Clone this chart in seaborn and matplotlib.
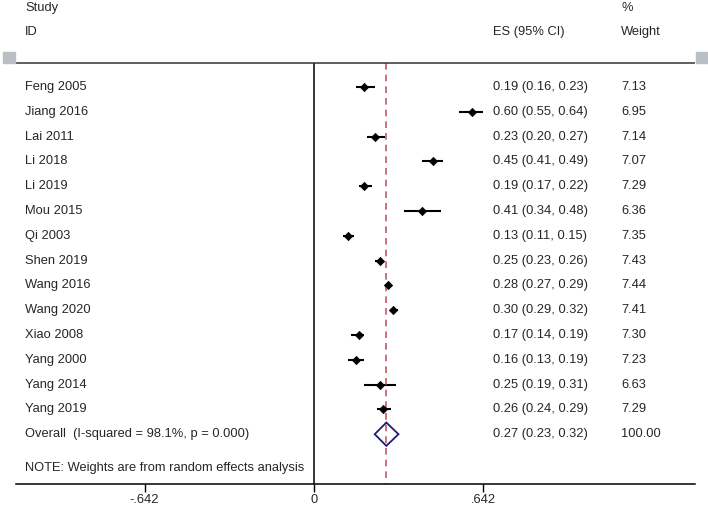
import numpy as np
import pandas as pd
import matplotlib
matplotlib.use("Agg")
import matplotlib.pyplot as plt
import seaborn as sns
from matplotlib.patches import Polygon, Rectangle

studies = ["Feng 2005", "Jiang 2016", "Lai 2011", "Li 2018", "Li 2019", "Mou 2015",
           "Qi 2003", "Shen 2019", "Wang 2016", "Wang 2020", "Xiao 2008", "Yang 2000",
           "Yang 2014", "Yang 2019"]
es = [0.19, 0.60, 0.23, 0.45, 0.19, 0.41, 0.13, 0.25, 0.28, 0.30, 0.17, 0.16, 0.25, 0.26]
lo = [0.16, 0.55, 0.20, 0.41, 0.17, 0.34, 0.11, 0.23, 0.27, 0.29, 0.14, 0.13, 0.19, 0.24]
hi = [0.23, 0.64, 0.27, 0.49, 0.22, 0.48, 0.15, 0.26, 0.29, 0.32, 0.19, 0.19, 0.31, 0.29]
weights = [7.13, 6.95, 7.14, 7.07, 7.29, 6.36, 7.35, 7.43, 7.44, 7.41, 7.30, 7.23, 6.63, 7.29]
overall_label = "Overall  (I-squared = 98.1%, p = 0.000)"
overall = (0.274, 0.23, 0.32)
overall_text = "0.27 (0.23, 0.32)"
tick_vals = [-0.642, 0, 0.642]
tick_labels = ["-.642", "0", ".642"]

sns.set_theme(style="white")
plt.rcParams['font.family'] = ['Liberation Sans', 'DejaVu Sans']
FS = 9.3

df = pd.DataFrame({"study": studies, "es": es, "lo": lo, "hi": hi, "w": weights})
df["row"] = np.arange(len(df))
n = len(df)

W, H = 708, 509
fig = plt.figure(figsize=(W / 100, H / 100), dpi=100)
ax = fig.add_axes([16 / W, (H - 484) / H, (695 - 16) / W, 484 / H])

xmin, xmax = (16 - 314) / 264, (695 - 314) / 264
ax.set_xlim(xmin, xmax)
ax.set_ylim((484 - 87) / 24.8, -87 / 24.8)

ax.hlines(df["row"], df["lo"], df["hi"], color="black", lw=1.5)
sns.scatterplot(data=df, x="es", y="row", marker="D", color="black", s=18,
                edgecolor="black", linewidth=0.5, ax=ax, zorder=3)

# overall diamond
orow = n
ax.add_patch(Polygon([[overall[1], orow], [overall[0], orow - 0.47],
                      [overall[2], orow], [overall[0], orow + 0.47]],
                     closed=True, fill=False, edgecolor="#1c1c78", lw=1.3, zorder=4))
ax.vlines(overall[0], -0.97, (484 - 87) / 24.8, color="#c25a68", lw=1.2,
          linestyles=(0, (4, 3)), zorder=2)

top_row = (63 - 87) / 24.8
ax.vlines(0, top_row, (484 - 87) / 24.8, color="black", lw=1.1)
ax.hlines(top_row, xmin, xmax, color="#333333", lw=1.1)

# text columns
x_lab = (25 - 314) / 264
x_es = (493 - 314) / 264
x_w = (621 - 314) / 264
for i, r in df.iterrows():
    ax.text(x_lab, r["row"], r["study"], va="center", ha="left", fontsize=FS)
    ax.text(x_es, r["row"], f"{r['es']:.2f} ({r['lo']:.2f}, {r['hi']:.2f})",
            va="center", ha="left", fontsize=FS)
    ax.text(x_w, r["row"], f"{r['w']:.2f}", va="center", ha="left", fontsize=FS)
ax.text(x_lab, orow, overall_label, va="center", ha="left", fontsize=FS)
ax.text(x_es, orow, overall_text, va="center", ha="left", fontsize=FS)
ax.text(x_w, orow, "100.00", va="center", ha="left", fontsize=FS)
ax.text(x_lab, (468 - 87) / 24.8, "NOTE: Weights are from random effects analysis",
        va="center", ha="left", fontsize=FS)

r_study = (8 - 87) / 24.8
r_id = (32 - 87) / 24.8
ax.text(x_lab, r_study, "Study", va="center", ha="left", fontsize=FS)
ax.text(x_lab, r_id, "ID", va="center", ha="left", fontsize=FS)
ax.text(x_es, r_id, "ES (95% CI)", va="center", ha="left", fontsize=FS)
ax.text(x_w, r_study, "%", va="center", ha="left", fontsize=FS)
ax.text(x_w, r_id, "Weight", va="center", ha="left", fontsize=FS)

# gray boxes at the ends of the header line
for px in (3, 696):
    fig.patches.append(Rectangle((px / W, (H - 63) / H), 12 / W, 11 / H,
                                 transform=fig.transFigure, color="#b8bec3",
                                 figure=fig))

for s in ["top", "left", "right"]:
    ax.spines[s].set_visible(False)
ax.spines["bottom"].set_color("black")
ax.spines["bottom"].set_linewidth(1.1)
ax.set_xticks(tick_vals)
ax.set_xticklabels(tick_labels, fontsize=FS)
ax.tick_params(axis="x", direction="out", length=6, width=1, color="black",
               bottom=True, pad=1)
ax.set_yticks([])
ax.set_xlabel("")
ax.set_ylabel("")
ax.patch.set_alpha(0)

fig.savefig("out.png", dpi=100)
